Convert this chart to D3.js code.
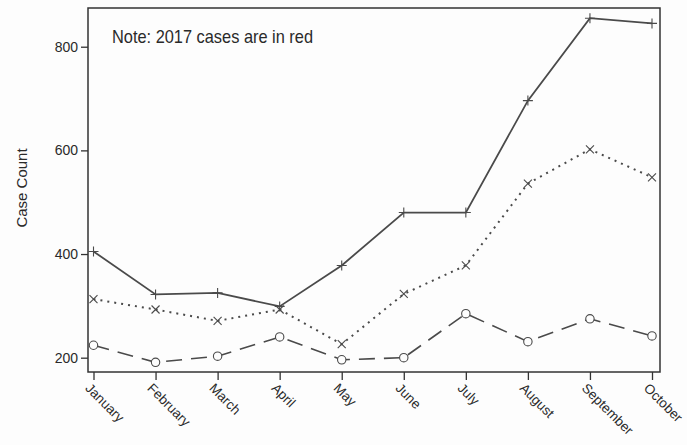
<!DOCTYPE html>
<html>
<head>
<meta charset="utf-8">
<script src="https://cdn.jsdelivr.net/npm/d3@7"></script>
<style>
  html, body { margin: 0; padding: 0; background: #fdfdfd; }
  svg { display: block; }
  text { font-family: "Liberation Sans", Arial, sans-serif; fill: #2a2a2a; }
</style>
</head>
<body>
<svg id="chart" width="687" height="445"></svg>
<script>
const months = ["January","February","March","April","May","June","July","August","September","October"];
const seriesSolid  = [405, 322, 325, 299, 378, 480, 480, 696, 855, 845];
const seriesDotted = [313, 293, 271, 293, 226, 323, 378, 536, 602, 548];
const seriesDashed = [224, 191, 203, 240, 196, 200, 285, 231, 275, 242];
const yTicks = [200, 400, 600, 800];
const noteText = "Note: 2017 cases are in red";
const yTitle = "Case Count";

const svg = d3.select("#chart");
const box = {left: 88, right: 660, top: 8, bottom: 372};

const x = d3.scalePoint().domain(months).range([93.5, 652]);
const y = d3.scaleLinear().domain([172.4, 874.7]).range([box.bottom, box.top]);

const lineCol = "#4a4a4a";
const axisCol = "#333";

// frame
svg.append("rect")
  .attr("x", box.left).attr("y", box.top)
  .attr("width", box.right - box.left).attr("height", box.bottom - box.top)
  .attr("fill", "none").attr("stroke", axisCol).attr("stroke-width", 1.5);

// y axis
const yAxis = svg.append("g").attr("transform", `translate(${box.left},0)`)
  .call(d3.axisLeft(y).tickValues(yTicks).tickSize(7).tickPadding(3).tickFormat(d3.format("d")));
yAxis.select(".domain").remove();
yAxis.selectAll("line").attr("stroke", axisCol).attr("stroke-width", 1.3);
yAxis.selectAll("text").style("font-size", "14px").attr("fill", "#2a2a2a");

// x axis
const xAxis = svg.append("g").attr("transform", `translate(0,${box.bottom})`)
  .call(d3.axisBottom(x).tickSize(8).tickFormat(""));
xAxis.select(".domain").remove();
xAxis.selectAll("line").attr("stroke", axisCol).attr("stroke-width", 1.3);

svg.append("g").selectAll("text").data(months).join("text")
  .attr("transform", d => `translate(${x(d) - 9},${box.bottom + 17}) rotate(45)`)
  .attr("text-anchor", "start")
  .style("font-size", "13.5px")
  .text(d => d);

// y title
svg.append("text")
  .attr("transform", `translate(27,188) rotate(-90)`)
  .attr("text-anchor", "middle")
  .style("font-size", "15px")
  .text(yTitle);

// note
svg.append("text")
  .attr("x", 112).attr("y", 43)
  .attr("textLength", 201)
  .attr("lengthAdjust", "spacingAndGlyphs")
  .style("font-size", "18.5px")
  .text(noteText);

const line = d3.line().x((d, i) => x(months[i])).y(d => y(d));

function drawSeries(vals, dash, width, marker) {
  svg.append("path").datum(vals)
    .attr("d", line)
    .attr("fill", "none")
    .attr("stroke", lineCol)
    .attr("stroke-width", width)
    .attr("stroke-dasharray", dash);
  const g = svg.append("g");
  vals.forEach((v, i) => {
    const cx = x(months[i]), cy = y(v);
    if (marker === "circle") {
      g.append("circle").attr("cx", cx).attr("cy", cy).attr("r", 4.2)
        .attr("fill", "#fdfdfd").attr("stroke", lineCol).attr("stroke-width", 1.1);
    } else if (marker === "plus") {
      g.append("path").attr("d", `M${cx-5},${cy}H${cx+5}M${cx},${cy-5}V${cy+5}`)
        .attr("stroke", lineCol).attr("stroke-width", 1.1).attr("fill", "none");
    } else {
      g.append("path").attr("d", `M${cx-4},${cy-4}L${cx+4},${cy+4}M${cx-4},${cy+4}L${cx+4},${cy-4}`)
        .attr("stroke", lineCol).attr("stroke-width", 1.1).attr("fill", "none");
    }
  });
}

drawSeries(seriesDashed, "16,9", 1.6, "circle");
drawSeries(seriesDotted, "2,5", 2, "x");
drawSeries(seriesSolid, null, 1.8, "plus");
</script>
</body>
</html>
